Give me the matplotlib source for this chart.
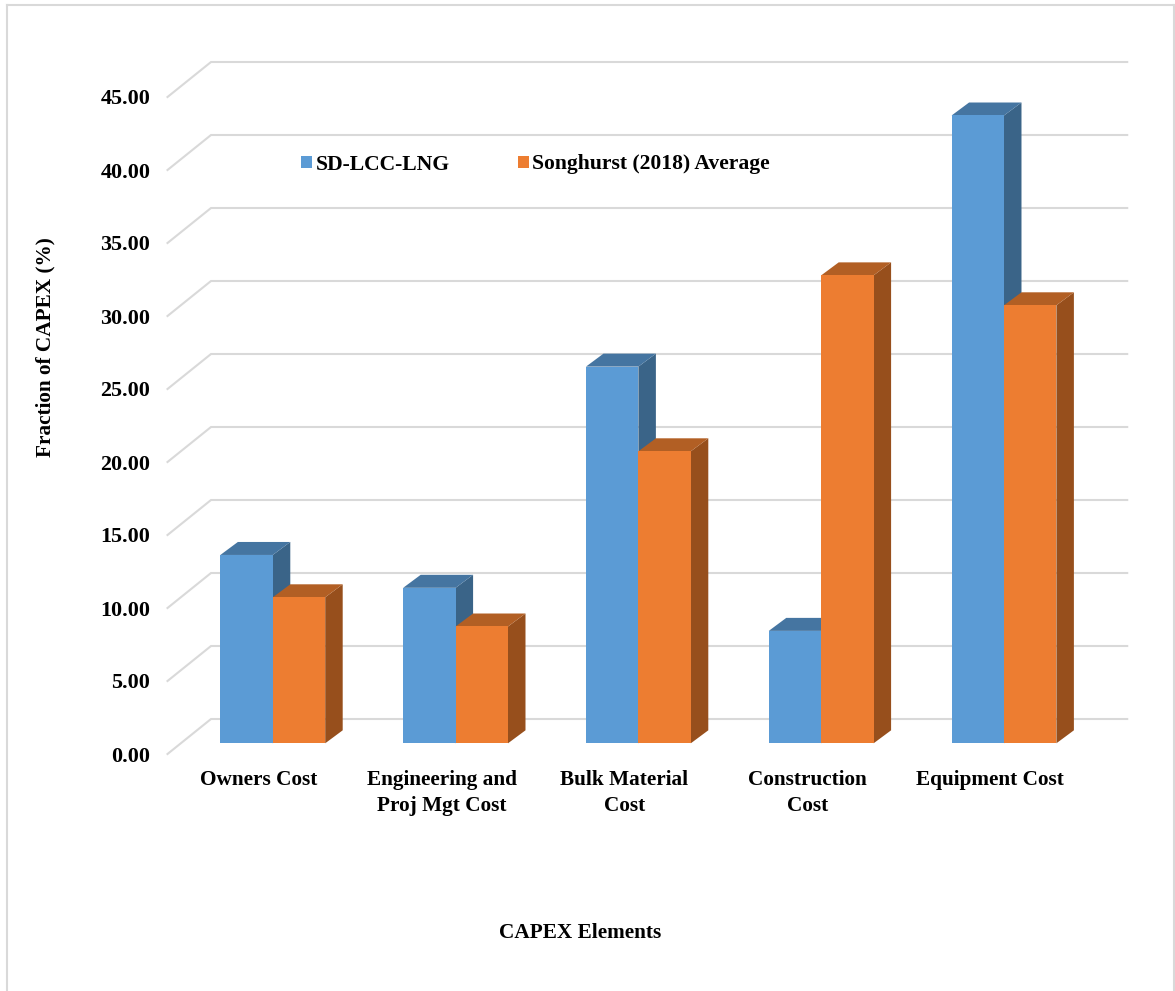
#!/usr/bin/env python3
# -*- coding: utf-8 -*-
"""CAPEX breakdown drawn as pseudo-3D clustered columns."""

import matplotlib

matplotlib.use("Agg")
import matplotlib.pyplot as plt
import numpy as np
from matplotlib.lines import Line2D
from matplotlib.patches import Polygon

CATEGORIES = [
    "Owners Cost",
    "Engineering and\nProj Mgt Cost",
    "Bulk Material\nCost",
    "Construction\nCost",
    "Equipment Cost",
]
SD_LCC_LNG = [12.9, 10.65, 25.8, 7.7, 43.0]
SONGHURST = [10.0, 8.0, 20.0, 32.05, 30.0]
Y_TICKS = [0, 5, 10, 15, 20, 25, 30, 35, 40, 45]
SERIES_NAMES = ["SD-LCC-LNG", "Songhurst (2018) Average"]

W, H = 1175, 991
FONT_SIZE = 15.3
GRID = "#D9D9D9"

# depth of the floor, and where the columns stand on it (data units)
WALL_DX, WALL_DY = 0.238, 2.397
FLOOR_DX, FLOOR_DY = 0.076, 0.733
BAR_W = 0.2867
BAR_DX, BAR_DY = 0.0957, 0.89

plt.rcParams["font.family"] = ["Liberation Serif", "DejaVu Serif"]
plt.rcParams["font.weight"] = "bold"


def draw_column(ax, left, value, front, top, side, label=None):
    base = FLOOR_DY
    head = base + value
    right = left + BAR_W
    ax.add_patch(Polygon(
        [(right, base), (right + BAR_DX, base + BAR_DY),
         (right + BAR_DX, head + BAR_DY), (right, head)],
        facecolor=side, edgecolor="none", clip_on=False, zorder=3))
    ax.add_patch(Polygon(
        [(left, head), (left + BAR_DX, head + BAR_DY),
         (right + BAR_DX, head + BAR_DY), (right, head)],
        facecolor=top, edgecolor="none", clip_on=False, zorder=3))
    ax.bar(left, value, BAR_W, bottom=base, align="edge", color=front,
           clip_on=False, zorder=3, label=label)


def main():
    fig = plt.figure(figsize=(W / 100, H / 100), dpi=100, facecolor="white")
    ax = fig.add_axes([167.5 / W, (H - 754) / H, 914 / W, 657 / H])
    ax.set_xlim(-0.5, 4.5)
    ax.set_ylim(0, 45)
    for s in ax.spines.values():
        s.set_visible(False)

    # outer chart frame, its lower edge is cut off
    for xs, ys in [((7, 7), (991, 5)), ((7, 1174), (5, 5)), ((1174, 1174), (5, 991))]:
        fig.add_artist(Line2D(np.array(xs) / W, 1 - np.array(ys) / H, color=GRID, lw=1.5))

    for v in Y_TICKS:
        ax.plot([-0.5, -0.5 + WALL_DX, 4.75], [v, v + WALL_DY, v + WALL_DY],
                color=GRID, lw=1.5, clip_on=False, zorder=1, solid_joinstyle="miter")

    for i in range(len(CATEGORIES)):
        x = i + FLOOR_DX
        draw_column(ax, x - BAR_W, SD_LCC_LNG[i], "#5B9BD5", "#4575A1", "#3A6488",
                    label=SERIES_NAMES[0] if i == 0 else None)
        draw_column(ax, x, SONGHURST[i], "#ED7D31", "#B25F24", "#974F1C",
                    label=SERIES_NAMES[1] if i == 0 else None)

    ax.set_xticks(range(len(CATEGORIES)), CATEGORIES, fontsize=FONT_SIZE, linespacing=1.4)
    ax.set_yticks(Y_TICKS, [f"{v:.2f}" for v in Y_TICKS], fontsize=15.9)
    ax.tick_params(axis="x", length=0, pad=11.5)
    ax.tick_params(axis="y", length=0, pad=12.3)

    ax.set_xlabel("CAPEX Elements", fontsize=FONT_SIZE, fontweight="bold", va="center")
    ax.xaxis.set_label_coords(580 / W, 1 - 933 / H, transform=fig.transFigure)
    ax.set_ylabel("Fraction of CAPEX (%)", fontsize=FONT_SIZE, fontweight="bold", va="center")
    ax.yaxis.set_label_coords(45 / W, 1 - 347 / H, transform=fig.transFigure)

    ax.legend(loc="center left", bbox_to_anchor=(301 / W, 1 - 164.5 / H),
              bbox_transform=fig.transFigure, ncol=2, frameon=False, fontsize=15.6,
              borderpad=0, borderaxespad=0, handlelength=0.52, handleheight=0.52,
              handletextpad=0.15, columnspacing=3.15)

    fig.savefig("out.png", dpi=100, facecolor="white")
    plt.close(fig)


if __name__ == "__main__":
    main()
